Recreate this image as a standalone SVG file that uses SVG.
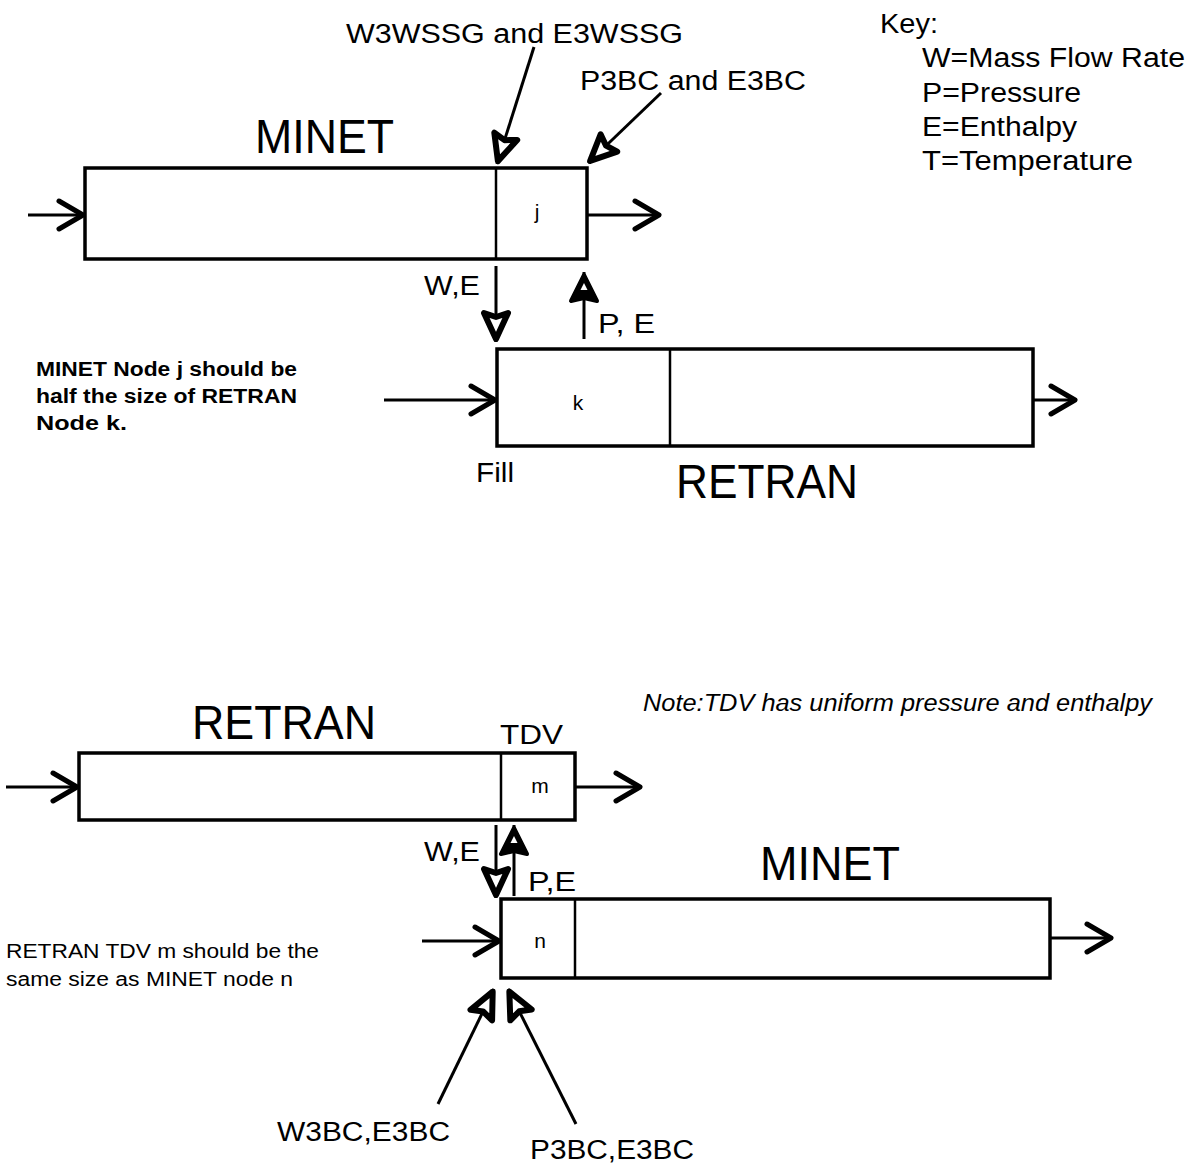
<svg xmlns="http://www.w3.org/2000/svg" width="1188" height="1173" viewBox="0 0 1188 1173">
<style>
text{font-family:"Liberation Sans",Arial,Helvetica,sans-serif;fill:#000}
.big{font-size:48px}
.lbl{font-size:27px}
.sm{font-size:21px}
.note{font-size:20px}
.b{font-weight:bold}
.it{font-style:italic}
.box{fill:#fff;stroke:#000;stroke-width:3.5}
.div{stroke:#000;stroke-width:2.5}
.ln{stroke:#000;stroke-width:3;fill:none}
</style>
<defs>
<marker id="chev" markerUnits="userSpaceOnUse" orient="auto" refX="0" refY="0" markerWidth="40" markerHeight="40" overflow="visible">
<path d="M-26,-14 L-2,0 L-26,14" fill="none" stroke="#000" stroke-width="5" stroke-linejoin="round" stroke-linecap="round"/>
</marker>
<marker id="tri" markerUnits="userSpaceOnUse" orient="auto" refX="0" refY="0" markerWidth="40" markerHeight="40" overflow="visible">
<path d="M-3,0 L-29,-12 L-25,0 L-29,12 Z" fill="#fff" stroke="#000" stroke-width="6" stroke-linejoin="round"/>
</marker>
<marker id="triA" markerUnits="userSpaceOnUse" orient="auto" refX="0" refY="0" markerWidth="40" markerHeight="40" overflow="visible">
<path d="M-3,0 L-29,-13 L-26,0 L-29,13 Z" fill="#000" stroke="#000" stroke-width="4" stroke-linejoin="round"/>
<path d="M-11,0 L-18,-3.5 L-18,3.5 Z" fill="#fff"/>
</marker>
</defs>

<g id="key">
<text class="lbl" x="880" y="33" textLength="58" lengthAdjust="spacingAndGlyphs">Key:</text>
<text class="lbl" x="922" y="67" textLength="263" lengthAdjust="spacingAndGlyphs">W=Mass Flow Rate</text>
<text class="lbl" x="922" y="102" textLength="159" lengthAdjust="spacingAndGlyphs">P=Pressure</text>
<text class="lbl" x="922" y="136" textLength="155" lengthAdjust="spacingAndGlyphs">E=Enthalpy</text>
<text class="lbl" x="922" y="170" textLength="211" lengthAdjust="spacingAndGlyphs">T=Temperature</text>
</g>

<g id="minet-top">
<text class="big" x="255" y="153" textLength="139" lengthAdjust="spacingAndGlyphs">MINET</text>
<rect class="box" x="85" y="168" width="502" height="91"/>
<line class="div" x1="496" y1="168" x2="496" y2="259"/>
<text class="sm" x="537" y="219" text-anchor="middle">j</text>
</g>

<g id="retran-top">
<rect class="box" x="497" y="349" width="536" height="97"/>
<line class="div" x1="670" y1="349" x2="670" y2="446"/>
<text class="sm" x="578" y="410" text-anchor="middle">k</text>
<text class="big" x="676" y="498" textLength="182" lengthAdjust="spacingAndGlyphs">RETRAN</text>
<text class="lbl" x="476" y="482" textLength="38" lengthAdjust="spacingAndGlyphs">Fill</text>
</g>

<g id="note-top">
<text class="note b" x="36" y="376" textLength="261" lengthAdjust="spacingAndGlyphs">MINET Node j should be</text>
<text class="note b" x="36" y="403" textLength="261" lengthAdjust="spacingAndGlyphs">half the size of RETRAN</text>
<text class="note b" x="36" y="430" textLength="91" lengthAdjust="spacingAndGlyphs">Node k.</text>
</g>

<g id="labels-top">
<text class="lbl" x="346" y="43" textLength="337" lengthAdjust="spacingAndGlyphs">W3WSSG and E3WSSG</text>
<text class="lbl" x="580" y="90" textLength="226" lengthAdjust="spacingAndGlyphs">P3BC and E3BC</text>
<text class="lbl" x="424" y="295" textLength="56" lengthAdjust="spacingAndGlyphs">W,E</text>
<text class="lbl" x="598" y="333" textLength="57" lengthAdjust="spacingAndGlyphs">P, E</text>
</g>

<g id="retran-bottom">
<text class="big" x="192" y="739" textLength="184" lengthAdjust="spacingAndGlyphs">RETRAN</text>
<text class="lbl" x="500" y="744" textLength="63" lengthAdjust="spacingAndGlyphs">TDV</text>
<rect class="box" x="79" y="753" width="496" height="67"/>
<line class="div" x1="501" y1="753" x2="501" y2="820"/>
<text class="sm" x="540" y="793" text-anchor="middle">m</text>
</g>

<g id="minet-bottom">
<text class="big" x="760" y="880" textLength="140" lengthAdjust="spacingAndGlyphs">MINET</text>
<rect class="box" x="501" y="899" width="549" height="79"/>
<line class="div" x1="575" y1="899" x2="575" y2="978"/>
<text class="sm" x="540" y="948" text-anchor="middle">n</text>
</g>

<g id="note-bottom">
<text class="it" style="font-size:23px" x="643" y="711" textLength="509" lengthAdjust="spacingAndGlyphs">Note:TDV has uniform pressure and enthalpy</text>
<text class="note" x="6" y="958" textLength="313" lengthAdjust="spacingAndGlyphs">RETRAN TDV m should be the</text>
<text class="note" x="6" y="986" textLength="287" lengthAdjust="spacingAndGlyphs">same size as MINET node n</text>
</g>

<g id="labels-bottom">
<text class="lbl" x="424" y="861" textLength="56" lengthAdjust="spacingAndGlyphs">W,E</text>
<text class="lbl" x="528" y="891" textLength="48" lengthAdjust="spacingAndGlyphs">P,E</text>
<text class="lbl" x="277" y="1141" textLength="173" lengthAdjust="spacingAndGlyphs">W3BC,E3BC</text>
<text class="lbl" x="530" y="1159" textLength="164" lengthAdjust="spacingAndGlyphs">P3BC,E3BC</text>
</g>

<g id="connectors">
<line class="ln" x1="28" y1="215" x2="85" y2="215" marker-end="url(#chev)"/>
<line class="ln" x1="587" y1="215" x2="661" y2="215" marker-end="url(#chev)"/>
<line class="ln" x1="534" y1="47" x2="497" y2="164" marker-end="url(#tri)"/>
<line class="ln" x1="661" y1="93" x2="588" y2="163" marker-end="url(#tri)"/>
<line class="ln" x1="496" y1="266" x2="496" y2="342" marker-end="url(#tri)"/>
<line class="ln" x1="584" y1="339" x2="584" y2="272" marker-end="url(#triA)"/>
<line class="ln" x1="384" y1="400" x2="497" y2="400" marker-end="url(#chev)"/>
<line class="ln" x1="1033" y1="400" x2="1077" y2="400" marker-end="url(#chev)"/>
<line class="ln" x1="6" y1="787" x2="79" y2="787" marker-end="url(#chev)"/>
<line class="ln" x1="575" y1="787" x2="642" y2="787" marker-end="url(#chev)"/>
<line class="ln" x1="496" y1="825" x2="496" y2="898" marker-end="url(#tri)"/>
<line class="ln" x1="514" y1="896" x2="514" y2="825" marker-end="url(#triA)"/>
<line class="ln" x1="422" y1="941" x2="501" y2="941" marker-end="url(#chev)"/>
<line class="ln" x1="1050" y1="938" x2="1113" y2="938" marker-end="url(#chev)"/>
<line class="ln" x1="438" y1="1104" x2="494" y2="989" marker-end="url(#tri)"/>
<line class="ln" x1="576" y1="1124" x2="508" y2="989" marker-end="url(#tri)"/>
</g>
</svg>
